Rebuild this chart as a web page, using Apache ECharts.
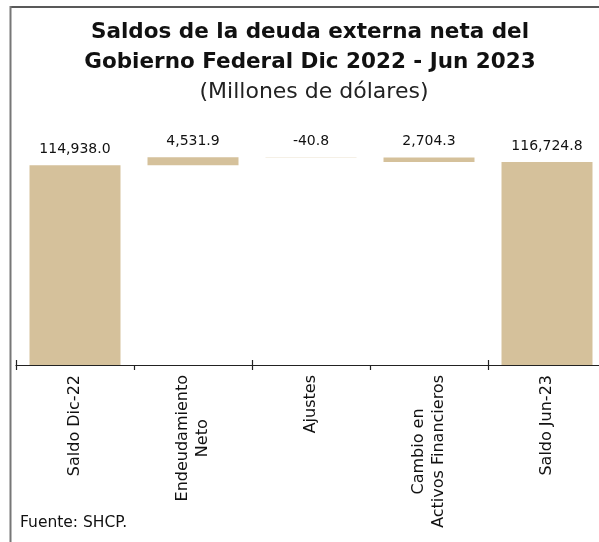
<!DOCTYPE html>
<html>
<head>
<meta charset="utf-8">
<script src="https://cdn.jsdelivr.net/npm/echarts@6/dist/echarts.min.js"></script>
<style>
html,body{margin:0;padding:0;background:#fff;overflow:hidden;width:599px;height:542px;}
#chart{width:610px;height:542px;}
</style>
</head>
<body>
<div id="chart"></div>
<script>
const categories = ['Saldo Dic-22', 'Endeudamiento\nNeto', 'Ajustes', 'Cambio en\nActivos Financieros', 'Saldo Jun-23'];
const values = [114938.0, 4531.9, -40.8, 2704.3, 116724.8];
const kinds = ['total', 'up', 'down', 'down', 'total'];
const titleLines = 'Saldos de la deuda externa neta del\nGobierno Federal Dic 2022 - Jun 2023';
const subtitle = '(Millones de dólares)';
const source = 'Fuente: SHCP.';

const FONT = 'DejaVu Sans';
const BAR = '#D5C19B';

// build waterfall base/height from values
const base = [], height = [];
let running = 0;
values.forEach((v, i) => {
  const k = kinds[i];
  const a = Math.abs(v);
  if (k === 'total') { base.push(0); height.push(v); running = v; }
  else if (k === 'up') { base.push(running); height.push(a); running += a; }
  else { running -= a; base.push(running); height.push(a); }
});

function fmt(v) {
  return v.toLocaleString('en-US', {minimumFractionDigits: 1, maximumFractionDigits: 1});
}

const chart = echarts.init(document.getElementById('chart'), null, {renderer: 'canvas'});
chart.setOption({
  animation: false,
  backgroundColor: '#fff',
  title: [{
    text: titleLines,
    left: 305, top: 12, textAlign: 'center',
    textStyle: {fontFamily: FONT, fontWeight: 'bold', fontSize: 21.5, lineHeight: 30, color: '#111'}
  }, {
    text: subtitle,
    left: 309, top: 76, textAlign: 'center',
    textStyle: {fontFamily: FONT, fontWeight: 'normal', fontSize: 22, color: '#222'}
  }],
  grid: {left: 16, right: 4, top: 139, bottom: 177, containLabel: false},
  xAxis: [{
    type: 'category', data: categories, position: 'bottom',
    axisLine: {show: true, lineStyle: {color: '#222', width: 1.2}},
    axisTick: {show: true, length: 5, lineStyle: {color: '#222', width: 1.2}},
    axisLabel: {
      rotate: 90, margin: 10, interval: 0, align: 'right', verticalAlign: 'middle',
      formatter: v => v.split('\n').map(s => '{c|' + s + '}').join('\n'),
      rich: {c: {fontFamily: FONT, fontSize: 16, lineHeight: 20, color: '#111', align: 'center'}}
    }
  }, {
    type: 'category', data: categories, position: 'bottom', offset: 0,
    axisLine: {show: false},
    axisTick: {show: true, inside: true, length: 5, lineStyle: {color: '#222', width: 1.2}},
    axisLabel: {show: false}
  }],
  yAxis: {type: 'value', min: 0, max: 130000, show: false, splitLine: {show: false}},
  series: [{
    type: 'bar', stack: 'w', data: base, barWidth: 91,
    itemStyle: {color: 'transparent'}, silent: true
  }, {
    type: 'bar', stack: 'w', data: height, barWidth: 91,
    itemStyle: {color: BAR},
    label: {
      show: true, position: 'top', distance: 9,
      fontFamily: FONT, fontSize: 14, color: '#111',
      formatter: p => fmt(values[p.dataIndex])
    }
  }],
  graphic: [
    {type: 'line', shape: {x1: 10, y1: 7, x2: 610, y2: 7}, style: {stroke: '#222', lineWidth: 1.5}},
    {type: 'line', shape: {x1: 10.5, y1: 6, x2: 10.5, y2: 542}, style: {stroke: '#777', lineWidth: 2}},
    {type: 'text', left: 20, top: 515, style: {text: source, fontFamily: FONT, fontSize: 15.5, fill: '#111'}}
  ]
});
</script>
</body>
</html>
